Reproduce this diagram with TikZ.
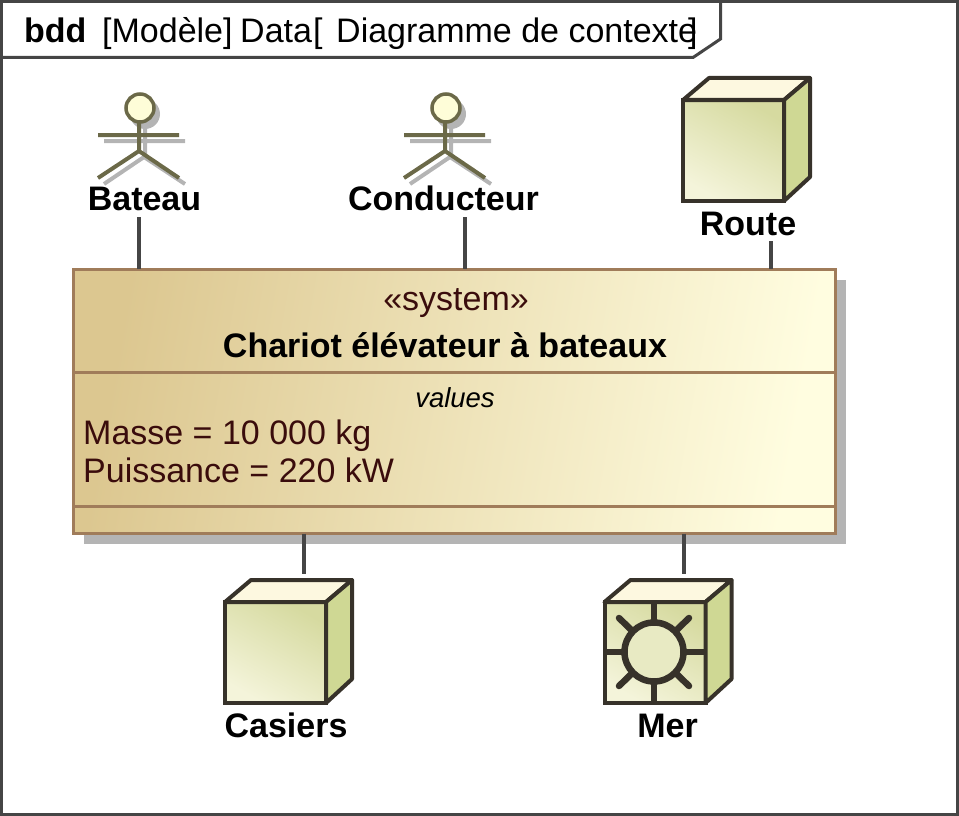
\documentclass[tikz,border=0pt]{standalone}
\usepackage{fontspec}
\setmainfont{Liberation Sans}
\usetikzlibrary{positioning,shadows}
\definecolor{frameline}{HTML}{454545}
\definecolor{blockline}{HTML}{A07C5A}
\definecolor{blockdark}{HTML}{DCC790}
\definecolor{blocklight}{HTML}{FFFDE0}
\definecolor{blocktext}{HTML}{3A0C0C}
\definecolor{shadowgray}{HTML}{B4B4B4}
\definecolor{actorline}{HTML}{6B6948}
\definecolor{actorfill}{HTML}{FEFDD8}
\definecolor{cubeline}{HTML}{37322A}
\definecolor{cubetop}{HTML}{FDF8E0}
\definecolor{cubeside}{HTML}{CFD894}
\definecolor{cubelight}{HTML}{F4F4DA}
\definecolor{cubedark}{HTML}{D6DAA0}

\begin{document}
\begin{tikzpicture}[x = 1pt, y = -1pt,
                    titletext/.style = {anchor = base west,
                                        inner sep = 0pt,
                                        font = \fontsize{34}{40}\selectfont},
                    nametxt/.style   = {anchor = base,
                                        inner sep = 0pt,
                                        text depth = 0pt,
                                        font = \fontsize{34}{40}\selectfont\bfseries},
                    block/.style     = {rectangle,
                                        anchor = north west,
                                        minimum width = 762pt,
                                        minimum height = 264pt,
                                        inner sep = 0pt,
                                        outer sep = 0pt,
                                        left color = blockdark,
                                        right color = blocklight,
                                        shading angle = 80,
                                        draw = blockline,
                                        line width = 3pt,
                                        drop shadow = {shadow xshift = 10pt,
                                                       shadow yshift = -10pt,
                                                       opacity = 1,
                                                       fill = shadowgray}},
                    blocktxt/.style  = {inner sep = 0pt,
                                        text = blocktext,
                                        font = \fontsize{34}{40}\selectfont},
                    link/.style      = {draw = frameline, line width = 3.5pt},
                    actorhead/.style = {circle,
                                        minimum size = 28pt,
                                        inner sep = 0pt,
                                        fill = actorfill,
                                        draw = actorline,
                                        line width = 3.5pt},
                    limb/.style      = {draw = actorline, line width = 4pt},
                    limbshadow/.style = {draw = shadowgray, line width = 4pt},
                    cube/.style      = {rectangle,
                                        anchor = north west,
                                        minimum width = 101pt,
                                        minimum height = 101pt,
                                        inner sep = 0pt,
                                        outer sep = 0pt,
                                        left color = cubelight,
                                        right color = cubedark,
                                        shading angle = 150,
                                        draw = cubeline,
                                        line width = 4pt},
                    cubeface/.style  = {draw = cubeline,
                                        line width = 4pt,
                                        line join = round},
                    sign/.style      = {draw = cubeline, line width = 6.5pt, line cap = round}]

\useasboundingbox (0,0) rectangle (959,816);

% frame and its tab
\draw[frameline, line width = 3pt] (1.5,1.5) rectangle (957.5,814.5);
\draw[frameline, line width = 3pt] (1.5,57.5) -- (693,57.5) -- (720.5,39) -- (720.5,1.5);

\node[titletext, font = \fontsize{34}{40}\selectfont\bfseries] (bdd) at (24,43) {bdd};
\node[titletext] (model) at (102,43) {[Modèle]};
\node[titletext] (data) at (240,43) {Data};
\node[titletext] (open) at (313,43) {[};
\node[titletext] (title) at (336,43) {Diagramme de contexte};
\node[titletext] (close) at (688,43) {]};

% the system
\node[block] (system) at (73.5,269.5) {};
\draw[blockline, line width = 3pt] (system.west |- 0,372) -- (system.east |- 0,372);
\draw[blockline, line width = 3pt] (system.west |- 0,506) -- (system.east |- 0,506);

\node[blocktxt, anchor = base] (stereo) at (456,310) {«system»};
\node[blocktxt, anchor = base, text = black, font = \fontsize{34}{40}\selectfont\bfseries] (chariot) at (445,357) {Chariot élévateur à bateaux};
\node[blocktxt, anchor = base, text = black, font = \fontsize{27.5}{32}\selectfont\itshape] (values) at (455,407) {values};
\node[blocktxt, anchor = base west] (masse) at (83,444) {Masse = 10 000 kg};
\node[blocktxt, anchor = base west] (puissance) at (83,482) {Puissance = 220 kW};

% actors
\foreach \actor/\x/\labelx in {Bateau/139/144.5, Conducteur/445/443.5} {
  \draw[limbshadow] (\x+6,116) -- (\x+6,158) (\x-35,141) -- (\x+46,141)
                    (\x+5,157) -- (\x-35,184) (\x+5,157) -- (\x+46,184);
  \fill[shadowgray] (\x+6,114) circle (15);
  \draw[limb] (\x,120) -- (\x,151) (\x-41,135) -- (\x+40,135)
              (\x,151) -- (\x-41,178) (\x,151) -- (\x+40,178);
  \node[actorhead] (\actor-head) at (\x+1,108) {};
  \node[nametxt] (\actor) at (\labelx,210) {\actor};
}

% blocks
\foreach \cname/\x/\y/\labelx in {Route/683/100/748, Casiers/225/602/286, Mer/604.5/602/667.5} {
  \node[cube] (\cname-box) at (\x,\y) {};
  \filldraw[cubeface, fill = cubetop] (\cname-box.north west) -- ++(26,-22) -- ++(101,0)
                                      -- ++(-26,22) -- cycle;
  \filldraw[cubeface, fill = cubeside] (\cname-box.north east) -- ++(26,-22) -- ++(0,99)
                                       -- (\cname-box.south east) -- cycle;
  \node[nametxt] (\cname) at (\labelx,\y+135) {\cname};
}

% sign on the sea block
\coordinate (sun) at (654,652);
\draw[sign, line cap = butt] (Mer-box.north -| sun) -- (sun)
                             (Mer-box.south -| sun) -- (sun)
                             (Mer-box.west |- sun) -- (sun)
                             (Mer-box.east |- sun) -- (sun);
\draw[sign] (619,618) -- (689,686) (689,618) -- (619,686);
\node[circle, minimum size = 59pt, inner sep = 0pt, draw = cubeline,
      line width = 6.5pt, fill = cubelight!60!cubedark] (sunface) at (sun) {};

% connectors
\coordinate (bateauport) at (139,269);
\coordinate (conducteurport) at (465,269);
\coordinate (routeport) at (771,269);
\coordinate (casiersport) at (304,574);
\coordinate (merport) at (684,574);

\draw[link] ([yshift = -7pt]Bateau.south -| bateauport) -- (bateauport);
\draw[link] ([yshift = -7pt]Conducteur.south -| conducteurport) -- (conducteurport);
\draw[link] ([yshift = -6pt]Route.south -| routeport) -- (routeport);
\draw[link] (system.south -| casiersport) -- (casiersport);
\draw[link] (system.south -| merport) -- (merport);

\end{tikzpicture}
\end{document}
